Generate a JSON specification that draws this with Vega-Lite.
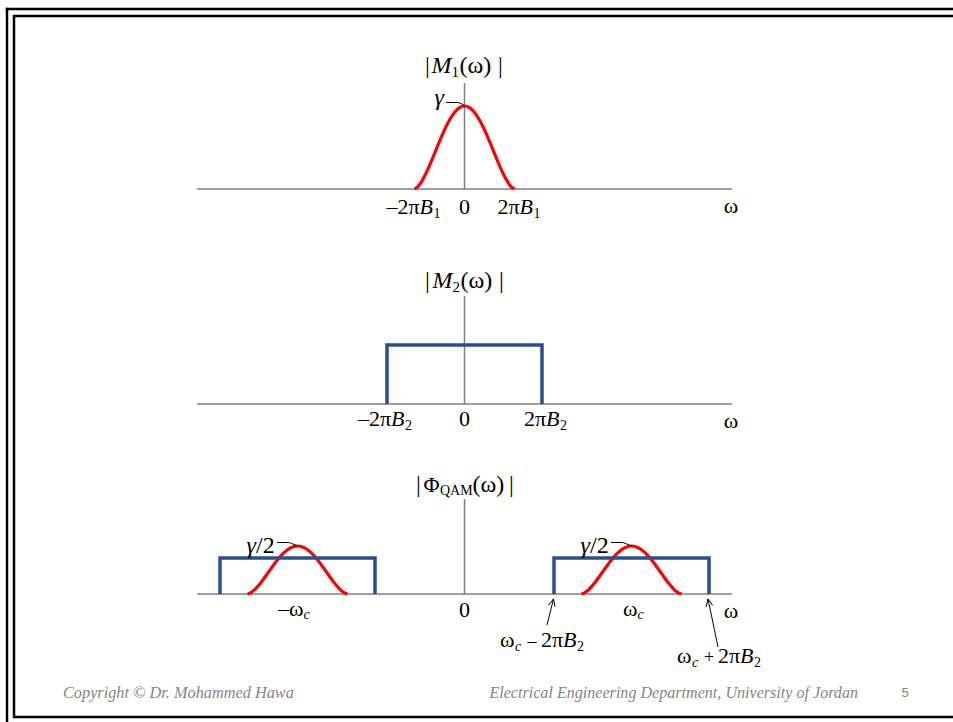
{
  "$schema": "https://vega.github.io/schema/vega-lite/v6.json",
  "padding": 0,
  "spacing": 0,
  "bounds": "flush",
  "background": "#ffffff",
  "config": {
    "view": {"stroke": null},
    "text": {"font": "Liberation Serif", "fontSize": 22, "color": "#000000", "baseline": "alphabetic"},
    "line": {"strokeCap": "butt"},
    "rule": {"strokeCap": "butt"}
  },
  "datasets": {
    "frameA": [
      {"w": -9.15, "w2": -9.15, "a": 2.184, "a2": -0.7349},
      {"w": -9.01, "w2": -9.01, "a": 2.096, "a2": -0.7349},
      {"w": -9.175, "w2": 9.77, "a": 2.169, "a2": 2.169},
      {"w": -9.03, "w2": 9.77, "a": 2.084, "a2": 2.084}
    ],
    "frameMid": [{"w": -9.15}, {"w": -9.01}],
    "frameFoot": [
      {"w": -9.15, "w2": -9.15, "a": 0, "a2": 1},
      {"w": -9.01, "w2": -9.01, "a": 0.085, "a2": 1},
      {"w": -9.03, "w2": 9.77, "a": 0.1064, "a2": 0.1064}
    ],
    "axA": [{"w": -5.35, "w2": 5.35, "a": 0, "a2": 0}, {"w": 0, "w2": 0, "a": 0, "a2": 1.277}],
    "axB": [{"w": -5.35, "w2": 5.35, "a": 0, "a2": 0}, {"w": 0, "w2": 0, "a": 0, "a2": 1.373}],
    "axC": [{"w": -5.35, "w2": 5.35, "a": 0, "a2": 0}, {"w": 0, "w2": 0, "a": 0, "a2": 0.99}],
    "tA": [{"w": 0, "a": 1.277}],
    "tB": [{"w": 0, "a": 1.373}],
    "tC": [{"w": 0, "a": 0.99}],
    "origin": [{"w": 0, "a": 0}],
    "axEnd": [{"w": 5.35, "a": 0}],
    "m1": [
      {"w": -1, "a": 0}, {"w": -0.95, "a": 0.017}, {"w": -0.9, "a": 0.051}, {"w": -0.85, "a": 0.098},
      {"w": -0.8, "a": 0.153}, {"w": -0.75, "a": 0.215}, {"w": -0.7, "a": 0.283}, {"w": -0.65, "a": 0.354},
      {"w": -0.6, "a": 0.427}, {"w": -0.5, "a": 0.574}, {"w": -0.4, "a": 0.712}, {"w": -0.3, "a": 0.831},
      {"w": -0.2, "a": 0.923}, {"w": -0.1, "a": 0.98}, {"w": 0, "a": 1}, {"w": 0.1, "a": 0.98},
      {"w": 0.2, "a": 0.923}, {"w": 0.3, "a": 0.831}, {"w": 0.4, "a": 0.712}, {"w": 0.5, "a": 0.574},
      {"w": 0.6, "a": 0.427}, {"w": 0.65, "a": 0.354}, {"w": 0.7, "a": 0.283}, {"w": 0.75, "a": 0.215},
      {"w": 0.8, "a": 0.153}, {"w": 0.85, "a": 0.098}, {"w": 0.9, "a": 0.051}, {"w": 0.95, "a": 0.017},
      {"w": 1, "a": 0}
    ],
    "leadA": [{"w": -0.37, "a": 1.042}, {"w": -0.15, "a": 1.042}, {"w": -0.05, "a": 1.024}, {"w": 0, "a": 1.0}],
    "gamA": [{"w": -0.37, "a": 1.042}],
    "tickA": [{"w": -1, "a": 0, "main": "–2π", "sub": "1"}, {"w": 1, "a": 0, "main": "2π", "sub": "1"}],
    "rectB": [
      {"w": -1.55, "a": 0, "k": 0}, {"w": -1.55, "a": 0.75, "k": 1},
      {"w": 1.55, "a": 0.75, "k": 2}, {"w": 1.55, "a": 0, "k": 3}
    ],
    "tickB": [{"w": -1.55, "a": 0, "main": "–2π", "sub": "2"}, {"w": 1.55, "a": 0, "main": "2π", "sub": "2"}],
    "qamTone": [
      {"side": "pos", "w": 2.34, "a": 0}, {"side": "pos", "w": 2.39, "a": 0.0085}, {"side": "pos", "w": 2.44, "a": 0.0255},
      {"side": "pos", "w": 2.49, "a": 0.049}, {"side": "pos", "w": 2.54, "a": 0.0765}, {"side": "pos", "w": 2.59, "a": 0.1075},
      {"side": "pos", "w": 2.64, "a": 0.1415}, {"side": "pos", "w": 2.69, "a": 0.177}, {"side": "pos", "w": 2.74, "a": 0.2135},
      {"side": "pos", "w": 2.84, "a": 0.287}, {"side": "pos", "w": 2.94, "a": 0.356}, {"side": "pos", "w": 3.04, "a": 0.4155},
      {"side": "pos", "w": 3.14, "a": 0.4615}, {"side": "pos", "w": 3.24, "a": 0.49}, {"side": "pos", "w": 3.34, "a": 0.5},
      {"side": "pos", "w": 3.44, "a": 0.49}, {"side": "pos", "w": 3.54, "a": 0.4615}, {"side": "pos", "w": 3.64, "a": 0.4155},
      {"side": "pos", "w": 3.74, "a": 0.356}, {"side": "pos", "w": 3.84, "a": 0.287}, {"side": "pos", "w": 3.94, "a": 0.2135},
      {"side": "pos", "w": 3.99, "a": 0.177}, {"side": "pos", "w": 4.04, "a": 0.1415}, {"side": "pos", "w": 4.09, "a": 0.1075},
      {"side": "pos", "w": 4.14, "a": 0.0765}, {"side": "pos", "w": 4.19, "a": 0.049}, {"side": "pos", "w": 4.24, "a": 0.0255},
      {"side": "pos", "w": 4.29, "a": 0.0085}, {"side": "pos", "w": 4.34, "a": 0},
      {"side": "neg", "w": -4.34, "a": 0}, {"side": "neg", "w": -4.29, "a": 0.0085}, {"side": "neg", "w": -4.24, "a": 0.0255},
      {"side": "neg", "w": -4.19, "a": 0.049}, {"side": "neg", "w": -4.14, "a": 0.0765}, {"side": "neg", "w": -4.09, "a": 0.1075},
      {"side": "neg", "w": -4.04, "a": 0.1415}, {"side": "neg", "w": -3.99, "a": 0.177}, {"side": "neg", "w": -3.94, "a": 0.2135},
      {"side": "neg", "w": -3.84, "a": 0.287}, {"side": "neg", "w": -3.74, "a": 0.356}, {"side": "neg", "w": -3.64, "a": 0.4155},
      {"side": "neg", "w": -3.54, "a": 0.4615}, {"side": "neg", "w": -3.44, "a": 0.49}, {"side": "neg", "w": -3.34, "a": 0.5},
      {"side": "neg", "w": -3.24, "a": 0.49}, {"side": "neg", "w": -3.14, "a": 0.4615}, {"side": "neg", "w": -3.04, "a": 0.4155},
      {"side": "neg", "w": -2.94, "a": 0.356}, {"side": "neg", "w": -2.84, "a": 0.287}, {"side": "neg", "w": -2.74, "a": 0.2135},
      {"side": "neg", "w": -2.69, "a": 0.177}, {"side": "neg", "w": -2.64, "a": 0.1415}, {"side": "neg", "w": -2.59, "a": 0.1075},
      {"side": "neg", "w": -2.54, "a": 0.0765}, {"side": "neg", "w": -2.49, "a": 0.049}, {"side": "neg", "w": -2.44, "a": 0.0255},
      {"side": "neg", "w": -2.39, "a": 0.0085}, {"side": "neg", "w": -2.34, "a": 0}
    ],
    "qamRect": [
      {"side": "neg", "k": 0, "w": -4.89, "a": 0}, {"side": "neg", "k": 1, "w": -4.89, "a": 0.375},
      {"side": "neg", "k": 2, "w": -1.79, "a": 0.375}, {"side": "neg", "k": 3, "w": -1.79, "a": 0},
      {"side": "pos", "k": 0, "w": 1.79, "a": 0}, {"side": "pos", "k": 1, "w": 1.79, "a": 0.375},
      {"side": "pos", "k": 2, "w": 4.89, "a": 0.375}, {"side": "pos", "k": 3, "w": 4.89, "a": 0}
    ],
    "leadC": [
      {"side": "pos", "w": 2.93, "a": 0.536}, {"side": "pos", "w": 3.15, "a": 0.536}, {"side": "pos", "w": 3.27, "a": 0.516}, {"side": "pos", "w": 3.34, "a": 0.5},
      {"side": "neg", "w": -3.75, "a": 0.536}, {"side": "neg", "w": -3.53, "a": 0.536}, {"side": "neg", "w": -3.41, "a": 0.516}, {"side": "neg", "w": -3.34, "a": 0.5}
    ],
    "gamC": [{"w": 2.93, "a": 0.536}, {"w": -3.75, "a": 0.536}],
    "tickC": [{"w": -3.34, "a": 0, "main": "–ω"}, {"w": 3.34, "a": 0, "main": "ω"}],
    "arrows": [
      {"w": 1.65, "w2": 1.78, "a": -0.323, "a2": -0.052},
      {"w": 1.78, "w2": 1.68, "a": -0.052, "a2": -0.117},
      {"w": 1.78, "w2": 1.81, "a": -0.052, "a2": -0.134},
      {"w": 5.07, "w2": 4.87, "a": -0.552, "a2": -0.052},
      {"w": 4.87, "w2": 4.834, "a": -0.052, "a2": -0.133},
      {"w": 4.87, "w2": 4.966, "a": -0.052, "a2": -0.119}
    ],
    "bandLab": [{"w": 1.57, "a": -0.552, "sign": "–"}, {"w": 5.11, "a": -0.719, "sign": "+"}],
    "footL": [{"w": -8.03, "a": 0.617, "t": "Copyright © Dr. Mohammed Hawa"}],
    "footR": [{"w": 7.87, "a": 0.617, "t": "Electrical Engineering Department, University of Jordan"}],
    "page": [{"w": 8.81, "a": 0.617, "t": "5"}]
  },
  "vconcat": [
    {
      "width": 953,
      "height": 250,
      "layer": [
        {"data": {"name": "frameA"}, "mark": {"type": "rule", "color": "#000000", "strokeWidth": 2.5},
         "encoding": {"x": {"field": "w", "type": "quantitative", "scale": {"domain": [-9.29, 9.77], "nice": false, "zero": false}, "axis": null}, "x2": {"field": "w2"},
                      "y": {"field": "a", "type": "quantitative", "scale": {"domain": [-0.7349, 2.2771], "nice": false, "zero": false}, "axis": null}, "y2": {"field": "a2"}}},
        {"data": {"name": "axA"}, "mark": {"type": "rule", "color": "#7f7f7f", "strokeWidth": 1.5},
         "encoding": {"x": {"field": "w", "type": "quantitative", "axis": null}, "x2": {"field": "w2"}, "y": {"field": "a", "type": "quantitative", "axis": null}, "y2": {"field": "a2"}}},
        {"data": {"name": "m1"}, "mark": {"type": "line", "color": "#ff0000", "strokeWidth": 3.2, "interpolate": "monotone"},
         "encoding": {"x": {"field": "w", "type": "quantitative", "axis": null}, "y": {"field": "a", "type": "quantitative", "axis": null}}},
        {"data": {"name": "leadA"}, "mark": {"type": "line", "color": "#000000", "strokeWidth": 1, "interpolate": "monotone"},
         "encoding": {"x": {"field": "w", "type": "quantitative", "axis": null}, "y": {"field": "a", "type": "quantitative", "axis": null}}},
        {"data": {"name": "gamA"}, "mark": {"type": "text", "text": "γ", "fontSize": 24, "fontStyle": "italic", "align": "right", "dx": -2, "dy": 2},
         "encoding": {"x": {"field": "w", "type": "quantitative", "axis": null}, "y": {"field": "a", "type": "quantitative", "axis": null}}},
        {"data": {"name": "tA"}, "mark": {"type": "text", "text": "|", "fontSize": 24, "align": "center", "dx": -37, "dy": -10},
         "encoding": {"x": {"field": "w", "type": "quantitative", "axis": null}, "y": {"field": "a", "type": "quantitative", "axis": null}}},
        {"data": {"name": "tA"}, "mark": {"type": "text", "text": "M", "fontSize": 24, "fontStyle": "italic", "align": "left", "dx": -33, "dy": -10},
         "encoding": {"x": {"field": "w", "type": "quantitative", "axis": null}, "y": {"field": "a", "type": "quantitative", "axis": null}}},
        {"data": {"name": "tA"}, "mark": {"type": "text", "text": "1", "fontSize": 15, "align": "left", "dx": -13, "dy": -6},
         "encoding": {"x": {"field": "w", "type": "quantitative", "axis": null}, "y": {"field": "a", "type": "quantitative", "axis": null}}},
        {"data": {"name": "tA"}, "mark": {"type": "text", "text": "(ω)", "fontSize": 24, "align": "left", "dx": -5, "dy": -10},
         "encoding": {"x": {"field": "w", "type": "quantitative", "axis": null}, "y": {"field": "a", "type": "quantitative", "axis": null}}},
        {"data": {"name": "tA"}, "mark": {"type": "text", "text": "|", "fontSize": 24, "align": "center", "dx": 36, "dy": -10},
         "encoding": {"x": {"field": "w", "type": "quantitative", "axis": null}, "y": {"field": "a", "type": "quantitative", "axis": null}}},
        {"data": {"name": "tickA"}, "mark": {"type": "text", "align": "right", "dx": 5, "dy": 25},
         "encoding": {"x": {"field": "w", "type": "quantitative", "axis": null}, "y": {"field": "a", "type": "quantitative", "axis": null}, "text": {"field": "main"}}},
        {"data": {"name": "tickA"}, "mark": {"type": "text", "text": "B", "fontStyle": "italic", "align": "left", "dx": 5, "dy": 25},
         "encoding": {"x": {"field": "w", "type": "quantitative", "axis": null}, "y": {"field": "a", "type": "quantitative", "axis": null}}},
        {"data": {"name": "tickA"}, "mark": {"type": "text", "fontSize": 14, "align": "left", "dx": 19, "dy": 29},
         "encoding": {"x": {"field": "w", "type": "quantitative", "axis": null}, "y": {"field": "a", "type": "quantitative", "axis": null}, "text": {"field": "sub"}}},
        {"data": {"name": "origin"}, "mark": {"type": "text", "text": "0", "align": "center", "dy": 25},
         "encoding": {"x": {"field": "w", "type": "quantitative", "axis": null}, "y": {"field": "a", "type": "quantitative", "axis": null}}},
        {"data": {"name": "axEnd"}, "mark": {"type": "text", "text": "ω", "align": "center", "dx": -1, "dy": 24},
         "encoding": {"x": {"field": "w", "type": "quantitative", "axis": null}, "y": {"field": "a", "type": "quantitative", "axis": null}}}
      ]
    },
    {
      "width": 953,
      "height": 210,
      "layer": [
        {"data": {"name": "frameMid"}, "mark": {"type": "rule", "color": "#000000", "strokeWidth": 2.5},
         "encoding": {"x": {"field": "w", "type": "quantitative", "scale": {"domain": [-9.29, 9.77], "nice": false, "zero": false}, "axis": null}}},
        {"data": {"name": "axB"}, "mark": {"type": "rule", "color": "#7f7f7f", "strokeWidth": 1.5},
         "encoding": {"x": {"field": "w", "type": "quantitative", "axis": null}, "x2": {"field": "w2"},
                      "y": {"field": "a", "type": "quantitative", "scale": {"domain": [-0.7119, 1.9576], "nice": false, "zero": false}, "axis": null}, "y2": {"field": "a2"}}},
        {"data": {"name": "rectB"}, "mark": {"type": "line", "color": "#2a4f8f", "strokeWidth": 3.5, "strokeJoin": "miter"},
         "encoding": {"x": {"field": "w", "type": "quantitative", "axis": null}, "y": {"field": "a", "type": "quantitative", "axis": null}, "order": {"field": "k"}}},
        {"data": {"name": "tB"}, "mark": {"type": "text", "text": "|", "fontSize": 24, "align": "center", "dx": -37, "dy": -8},
         "encoding": {"x": {"field": "w", "type": "quantitative", "axis": null}, "y": {"field": "a", "type": "quantitative", "axis": null}}},
        {"data": {"name": "tB"}, "mark": {"type": "text", "text": "M", "fontSize": 24, "fontStyle": "italic", "align": "left", "dx": -32, "dy": -8},
         "encoding": {"x": {"field": "w", "type": "quantitative", "axis": null}, "y": {"field": "a", "type": "quantitative", "axis": null}}},
        {"data": {"name": "tB"}, "mark": {"type": "text", "text": "2", "fontSize": 15, "align": "left", "dx": -12, "dy": -4},
         "encoding": {"x": {"field": "w", "type": "quantitative", "axis": null}, "y": {"field": "a", "type": "quantitative", "axis": null}}},
        {"data": {"name": "tB"}, "mark": {"type": "text", "text": "(ω)", "fontSize": 24, "align": "left", "dx": -4, "dy": -8},
         "encoding": {"x": {"field": "w", "type": "quantitative", "axis": null}, "y": {"field": "a", "type": "quantitative", "axis": null}}},
        {"data": {"name": "tB"}, "mark": {"type": "text", "text": "|", "fontSize": 24, "align": "center", "dx": 37, "dy": -8},
         "encoding": {"x": {"field": "w", "type": "quantitative", "axis": null}, "y": {"field": "a", "type": "quantitative", "axis": null}}},
        {"data": {"name": "tickB"}, "mark": {"type": "text", "align": "right", "dx": 4, "dy": 22},
         "encoding": {"x": {"field": "w", "type": "quantitative", "axis": null}, "y": {"field": "a", "type": "quantitative", "axis": null}, "text": {"field": "main"}}},
        {"data": {"name": "tickB"}, "mark": {"type": "text", "text": "B", "fontStyle": "italic", "align": "left", "dx": 4, "dy": 22},
         "encoding": {"x": {"field": "w", "type": "quantitative", "axis": null}, "y": {"field": "a", "type": "quantitative", "axis": null}}},
        {"data": {"name": "tickB"}, "mark": {"type": "text", "fontSize": 14, "align": "left", "dx": 18, "dy": 26},
         "encoding": {"x": {"field": "w", "type": "quantitative", "axis": null}, "y": {"field": "a", "type": "quantitative", "axis": null}, "text": {"field": "sub"}}},
        {"data": {"name": "origin"}, "mark": {"type": "text", "text": "0", "align": "center", "dy": 22},
         "encoding": {"x": {"field": "w", "type": "quantitative", "axis": null}, "y": {"field": "a", "type": "quantitative", "axis": null}}},
        {"data": {"name": "axEnd"}, "mark": {"type": "text", "text": "ω", "align": "center", "dx": -1, "dy": 24},
         "encoding": {"x": {"field": "w", "type": "quantitative", "axis": null}, "y": {"field": "a", "type": "quantitative", "axis": null}}}
      ]
    },
    {
      "width": 953,
      "height": 215,
      "layer": [
        {"data": {"name": "frameMid"}, "mark": {"type": "rule", "color": "#000000", "strokeWidth": 2.5},
         "encoding": {"x": {"field": "w", "type": "quantitative", "scale": {"domain": [-9.29, 9.77], "nice": false, "zero": false}, "axis": null}}},
        {"data": {"name": "axC"}, "mark": {"type": "rule", "color": "#7f7f7f", "strokeWidth": 1.5},
         "encoding": {"x": {"field": "w", "type": "quantitative", "axis": null}, "x2": {"field": "w2"},
                      "y": {"field": "a", "type": "quantitative", "scale": {"domain": [-0.84375, 1.39583], "nice": false, "zero": false}, "axis": null}, "y2": {"field": "a2"}}},
        {"data": {"name": "qamTone"}, "mark": {"type": "line", "color": "#ff0000", "strokeWidth": 3.2, "interpolate": "monotone"},
         "encoding": {"x": {"field": "w", "type": "quantitative", "axis": null}, "y": {"field": "a", "type": "quantitative", "axis": null}, "detail": {"field": "side"}}},
        {"data": {"name": "qamRect"}, "mark": {"type": "line", "color": "#2a4f8f", "strokeWidth": 3.5, "strokeJoin": "miter"},
         "encoding": {"x": {"field": "w", "type": "quantitative", "axis": null}, "y": {"field": "a", "type": "quantitative", "axis": null}, "detail": {"field": "side"}, "order": {"field": "k"}}},
        {"data": {"name": "leadC"}, "mark": {"type": "line", "color": "#000000", "strokeWidth": 1, "interpolate": "monotone"},
         "encoding": {"x": {"field": "w", "type": "quantitative", "axis": null}, "y": {"field": "a", "type": "quantitative", "axis": null}, "detail": {"field": "side"}}},
        {"data": {"name": "gamC"}, "mark": {"type": "text", "text": "γ", "fontSize": 24, "fontStyle": "italic", "align": "right", "dx": -21, "dy": 10},
         "encoding": {"x": {"field": "w", "type": "quantitative", "axis": null}, "y": {"field": "a", "type": "quantitative", "axis": null}}},
        {"data": {"name": "gamC"}, "mark": {"type": "text", "text": "/2", "fontSize": 24, "align": "left", "dx": -21, "dy": 10},
         "encoding": {"x": {"field": "w", "type": "quantitative", "axis": null}, "y": {"field": "a", "type": "quantitative", "axis": null}}},
        {"data": {"name": "tC"}, "mark": {"type": "text", "text": "|", "fontSize": 24, "align": "center", "dx": -46, "dy": -7},
         "encoding": {"x": {"field": "w", "type": "quantitative", "axis": null}, "y": {"field": "a", "type": "quantitative", "axis": null}}},
        {"data": {"name": "tC"}, "mark": {"type": "text", "text": "Φ", "align": "left", "dx": -41, "dy": -7},
         "encoding": {"x": {"field": "w", "type": "quantitative", "axis": null}, "y": {"field": "a", "type": "quantitative", "axis": null}}},
        {"data": {"name": "tC"}, "mark": {"type": "text", "text": "QAM", "fontSize": 14, "align": "left", "dx": -24.5, "dy": -4},
         "encoding": {"x": {"field": "w", "type": "quantitative", "axis": null}, "y": {"field": "a", "type": "quantitative", "axis": null}}},
        {"data": {"name": "tC"}, "mark": {"type": "text", "text": "(ω)", "fontSize": 24, "align": "left", "dx": 8, "dy": -7},
         "encoding": {"x": {"field": "w", "type": "quantitative", "axis": null}, "y": {"field": "a", "type": "quantitative", "axis": null}}},
        {"data": {"name": "tC"}, "mark": {"type": "text", "text": "|", "fontSize": 24, "align": "center", "dx": 47, "dy": -7},
         "encoding": {"x": {"field": "w", "type": "quantitative", "axis": null}, "y": {"field": "a", "type": "quantitative", "axis": null}}},
        {"data": {"name": "tickC"}, "mark": {"type": "text", "align": "right", "dx": 6, "dy": 22},
         "encoding": {"x": {"field": "w", "type": "quantitative", "axis": null}, "y": {"field": "a", "type": "quantitative", "axis": null}, "text": {"field": "main"}}},
        {"data": {"name": "tickC"}, "mark": {"type": "text", "text": "c", "fontStyle": "italic", "fontSize": 14, "align": "left", "dx": 6, "dy": 25},
         "encoding": {"x": {"field": "w", "type": "quantitative", "axis": null}, "y": {"field": "a", "type": "quantitative", "axis": null}}},
        {"data": {"name": "origin"}, "mark": {"type": "text", "text": "0", "align": "center", "dy": 23},
         "encoding": {"x": {"field": "w", "type": "quantitative", "axis": null}, "y": {"field": "a", "type": "quantitative", "axis": null}}},
        {"data": {"name": "axEnd"}, "mark": {"type": "text", "text": "ω", "align": "center", "dx": -1, "dy": 24},
         "encoding": {"x": {"field": "w", "type": "quantitative", "axis": null}, "y": {"field": "a", "type": "quantitative", "axis": null}}},
        {"data": {"name": "arrows"}, "mark": {"type": "rule", "color": "#000000", "strokeWidth": 1},
         "encoding": {"x": {"field": "w", "type": "quantitative", "axis": null}, "x2": {"field": "w2"}, "y": {"field": "a", "type": "quantitative", "axis": null}, "y2": {"field": "a2"}}},
        {"data": {"name": "bandLab"}, "mark": {"type": "text", "text": "ω", "align": "left", "dx": -43},
         "encoding": {"x": {"field": "w", "type": "quantitative", "axis": null}, "y": {"field": "a", "type": "quantitative", "axis": null}}},
        {"data": {"name": "bandLab"}, "mark": {"type": "text", "text": "c", "fontStyle": "italic", "fontSize": 14, "align": "left", "dx": -28, "dy": 4},
         "encoding": {"x": {"field": "w", "type": "quantitative", "axis": null}, "y": {"field": "a", "type": "quantitative", "axis": null}}},
        {"data": {"name": "bandLab"}, "mark": {"type": "text", "fontSize": 18, "align": "center", "dx": -11},
         "encoding": {"x": {"field": "w", "type": "quantitative", "axis": null}, "y": {"field": "a", "type": "quantitative", "axis": null}, "text": {"field": "sign"}}},
        {"data": {"name": "bandLab"}, "mark": {"type": "text", "text": "2π", "align": "right", "dx": 20},
         "encoding": {"x": {"field": "w", "type": "quantitative", "axis": null}, "y": {"field": "a", "type": "quantitative", "axis": null}}},
        {"data": {"name": "bandLab"}, "mark": {"type": "text", "text": "B", "fontStyle": "italic", "align": "left", "dx": 20},
         "encoding": {"x": {"field": "w", "type": "quantitative", "axis": null}, "y": {"field": "a", "type": "quantitative", "axis": null}}},
        {"data": {"name": "bandLab"}, "mark": {"type": "text", "text": "2", "fontSize": 14, "align": "left", "dx": 34, "dy": 4},
         "encoding": {"x": {"field": "w", "type": "quantitative", "axis": null}, "y": {"field": "a", "type": "quantitative", "axis": null}}}
      ]
    },
    {
      "width": 953,
      "height": 47,
      "layer": [
        {"data": {"name": "frameFoot"}, "mark": {"type": "rule", "color": "#000000", "strokeWidth": 2.5},
         "encoding": {"x": {"field": "w", "type": "quantitative", "scale": {"domain": [-9.29, 9.77], "nice": false, "zero": false}, "axis": null}, "x2": {"field": "w2"},
                      "y": {"field": "a", "type": "quantitative", "scale": {"domain": [0, 1], "nice": false, "zero": false}, "axis": null}, "y2": {"field": "a2"}}},
        {"data": {"name": "footL"}, "mark": {"type": "text", "fontStyle": "italic", "fontSize": 16.3, "color": "#858585", "align": "left", "baseline": "middle"},
         "encoding": {"x": {"field": "w", "type": "quantitative", "axis": null}, "y": {"field": "a", "type": "quantitative", "axis": null}, "text": {"field": "t"}}},
        {"data": {"name": "footR"}, "mark": {"type": "text", "fontStyle": "italic", "fontSize": 16.1, "color": "#858585", "align": "right", "baseline": "middle"},
         "encoding": {"x": {"field": "w", "type": "quantitative", "axis": null}, "y": {"field": "a", "type": "quantitative", "axis": null}, "text": {"field": "t"}}},
        {"data": {"name": "page"}, "mark": {"type": "text", "font": "Liberation Sans", "fontSize": 13, "color": "#858585", "align": "center", "baseline": "middle"},
         "encoding": {"x": {"field": "w", "type": "quantitative", "axis": null}, "y": {"field": "a", "type": "quantitative", "axis": null}, "text": {"field": "t"}}}
      ]
    }
  ]
}
